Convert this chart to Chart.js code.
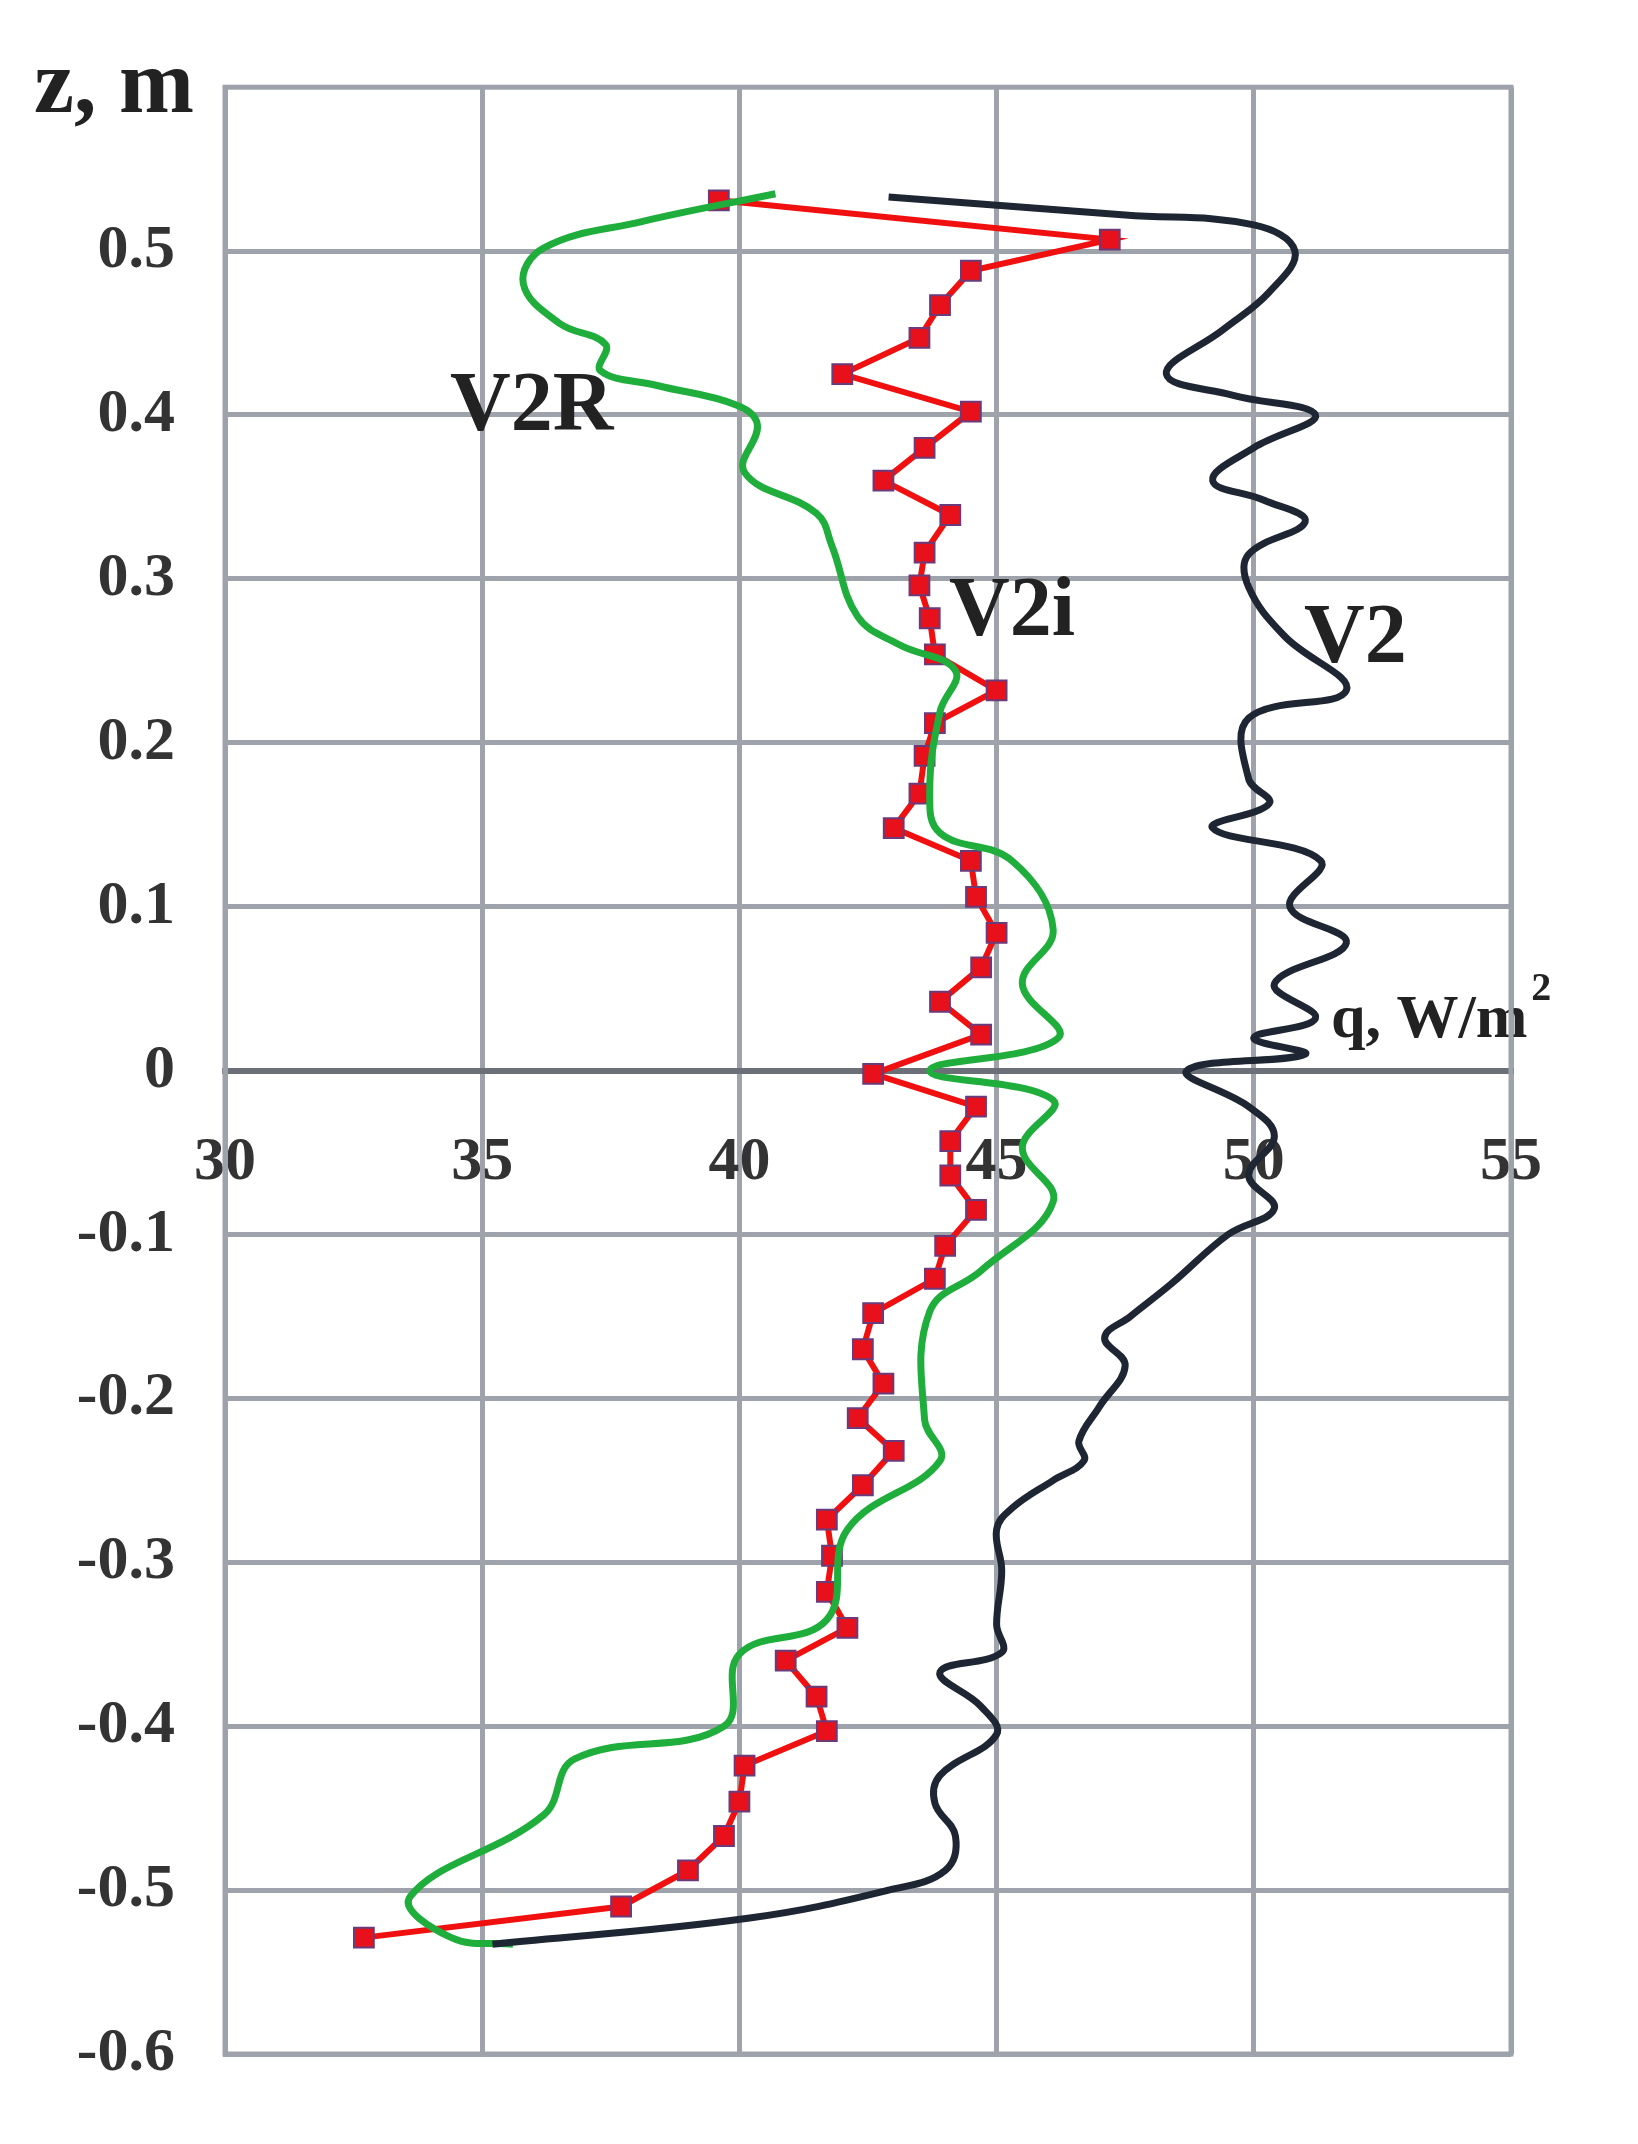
<!DOCTYPE html>
<html>
<head>
<meta charset="utf-8">
<script src="https://cdn.jsdelivr.net/npm/chart.js@4.4.1/dist/chart.umd.min.js"></script>
<style>
  body { margin: 0; background: #fff; }
  #wrap { width: 1638px; height: 2144px; }
</style>
</head>
<body>
<div id="wrap"><canvas id="chart"></canvas></div>
<script>
// V2i measured points [q, z]
const v2iQ = [39.6, 47.2, 44.5, 43.9, 43.5, 42.0, 44.5, 43.6, 42.8, 44.1, 43.6, 43.5, 43.7, 43.8, 45.0, 43.8, 43.6, 43.5, 43.0, 44.5, 44.6, 45.0, 44.7, 43.9, 44.7, 42.6, 44.6, 44.1, 44.1, 44.6, 44.0, 43.8, 42.6, 42.4, 42.8, 42.3, 43.0, 42.4, 41.7, 41.8, 41.7, 42.1, 40.9, 41.5, 41.7, 40.1, 40.0, 39.7, 39.0, 37.7, 32.7];
const v2iZ = [0.531, 0.507, 0.488, 0.467, 0.447, 0.425, 0.402, 0.380, 0.360, 0.339, 0.316, 0.296, 0.276, 0.254, 0.232, 0.212, 0.192, 0.169, 0.148, 0.128, 0.106, 0.084, 0.063, 0.042, 0.022, -0.002, -0.022, -0.043, -0.064, -0.085, -0.107, -0.127, -0.148, -0.170, -0.191, -0.212, -0.232, -0.253, -0.274, -0.296, -0.318, -0.340, -0.360, -0.382, -0.403, -0.424, -0.446, -0.467, -0.488, -0.510, -0.529];

// V2 curve
const v2Q = [42.9, 47.5, 50.0, 50.8, 50.3, 49.4, 48.3, 49.6, 51.2, 50.0, 49.2, 50.2, 51.0, 49.9, 49.9, 50.6, 51.8, 49.9, 49.9, 50.3, 49.2, 51.3, 50.7, 51.8, 50.4, 51.2, 50.0, 51.0, 48.7, 49.9, 50.4, 49.9, 50.4, 49.5, 48.4, 47.6, 47.1, 47.5, 47.0, 46.6, 46.7, 46.1, 45.3, 45.0, 45.1, 45.0, 45.1, 43.9, 44.7, 45.0, 43.9, 43.8, 44.2, 44.0, 42.9, 40.2, 35.2];
const v2Z = [0.533, 0.522, 0.516, 0.500, 0.475, 0.452, 0.425, 0.412, 0.400, 0.380, 0.360, 0.348, 0.335, 0.315, 0.295, 0.265, 0.232, 0.215, 0.178, 0.163, 0.148, 0.128, 0.100, 0.078, 0.053, 0.032, 0.020, 0.010, 0.000, -0.022, -0.040, -0.064, -0.084, -0.100, -0.130, -0.150, -0.163, -0.180, -0.205, -0.226, -0.238, -0.250, -0.267, -0.280, -0.305, -0.338, -0.355, -0.367, -0.388, -0.405, -0.430, -0.447, -0.467, -0.488, -0.500, -0.517, -0.533];

// V2R curve
const v2rQ = [40.7, 38.1, 36.2, 35.8, 36.5, 37.4, 37.3, 38.4, 39.95, 40.35, 40.1, 41.5, 41.8, 42.3, 43.1, 44.2, 43.9, 43.7, 43.9, 45.3, 46.1, 45.5, 46.2, 43.7, 46.1, 45.5, 46.1, 44.7, 43.7, 43.6, 43.9, 42.1, 41.7, 40.0, 39.7, 36.8, 36.2, 33.6, 34.4, 35.6];
const v2rZ = [0.535, 0.518, 0.502, 0.480, 0.456, 0.443, 0.427, 0.418, 0.406, 0.394, 0.365, 0.340, 0.320, 0.277, 0.260, 0.244, 0.219, 0.170, 0.145, 0.128, 0.086, 0.053, 0.020, 0.000, -0.018, -0.047, -0.080, -0.122, -0.147, -0.213, -0.238, -0.280, -0.335, -0.356, -0.400, -0.420, -0.454, -0.504, -0.529, -0.533];

const xTicks = [30, 35, 40, 45, 50, 55];
const yTicks = [-0.6, -0.5, -0.4, -0.3, -0.2, -0.1, 0, 0.1, 0.2, 0.3, 0.4, 0.5];

const pts = (q, z) => q.map((v, i) => ({ x: v, y: z[i] }));
const serif = "'Liberation Serif', 'DejaVu Serif', serif";

const textPlugin = {
    id: "texts",
    afterDraw(chart) {
        const c = chart.ctx;
        c.save();
        c.fillStyle = "#222";
        c.font = `bold 90px ${serif}`;
        c.fillText("z, m", 34, 112);
        c.font = `bold 84px ${serif}`;
        c.fillText("V2R", 450, 430);
        c.fillText("V2i", 949, 635);
        c.fillText("V2", 1304, 662);
        c.font = `bold 62px ${serif}`;
        c.fillText("q, W/m", 1331, 1037);
        const w = c.measureText("q, W/m").width;
        c.font = `bold 40px ${serif}`;
        c.fillText("2", 1331 + w + 4, 1000);
        c.restore();
    }
};

new Chart(document.getElementById("chart"), {
    type: "scatter",
    data: {
        datasets: [
            { data: pts(v2Q, v2Z), showLine: true, borderColor: "#1f2633", borderWidth: 7, pointRadius: 0, tension: 0.4 },
            { data: pts(v2rQ, v2rZ), showLine: true, borderColor: "#1fae3c", borderWidth: 7, pointRadius: 0, tension: 0.4 },
            { data: pts(v2iQ, v2iZ), showLine: true, borderColor: "#f01010", borderWidth: 6, tension: 0,
              pointStyle: "rect", pointRadius: 14, pointBackgroundColor: "#e8101a", pointBorderColor: "#6a3a7a", pointBorderWidth: 2 }
        ]
    },
    options: {
        responsive: true,
        maintainAspectRatio: false,
        animation: false,
        layout: { padding: { top: 85, right: 127, bottom: 90, left: 0 } },
        plugins: { legend: { display: false }, tooltip: { enabled: false } },
        scales: {
            x: {
                type: "linear", min: 30, max: 55, position: { y: 0 },
                afterBuildTicks: (s) => { s.ticks = xTicks.map((v) => ({ value: v })); },
                grid: { color: "#9ea3ab", lineWidth: 5, drawTicks: false },
                border: { color: "#6b6f77", width: 6 },
                ticks: { color: "#333", padding: 55, font: { family: serif, size: 62, weight: "bold" } }
            },
            y: {
                type: "linear", min: -0.6, max: 0.6,
                afterBuildTicks: (s) => { s.ticks = yTicks.map((v) => ({ value: v })); },
                afterFit: (s) => { s.width = 225; },
                grid: { color: (ctx) => ctx.tick && ctx.tick.value === 0 ? "#6b6f77" : "#9ea3ab", lineWidth: (ctx) => ctx.tick && ctx.tick.value === 0 ? 6 : 5, drawTicks: false },
                border: { color: "#9ea3ab", width: 5 },
                ticks: { color: "#333", padding: 50, font: { family: serif, size: 62, weight: "bold" },
                         callback: (v) => (Math.round(v * 10) / 10).toString() }
            }
        }
    },
    plugins: [textPlugin, {
        id: "frame",
        afterDraw(chart) {
            const { ctx, chartArea: a } = chart;
            ctx.save();
            ctx.strokeStyle = "#9ea3ab";
            ctx.lineWidth = 5;
            ctx.strokeRect(a.left, a.top, a.right - a.left, a.bottom - a.top);
            ctx.restore();
        }
    }]
});
</script>
</body>
</html>
